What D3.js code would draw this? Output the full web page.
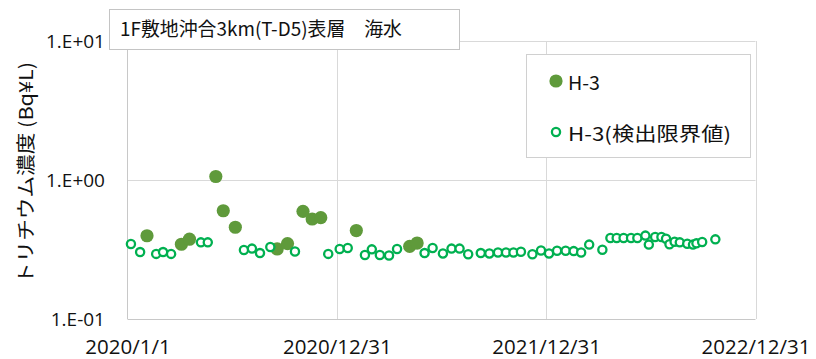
<!DOCTYPE html>
<html>
<head>
<meta charset="utf-8">
<script src="https://cdn.jsdelivr.net/npm/d3@7"></script>
<style>
  html, body { margin: 0; padding: 0; background: #fff; }
  svg { display: block; }
</style>
</head>
<body>
<svg id="chart" width="816" height="359"></svg>
<script>
// Tritium in surface seawater, 3 km off the site (T-D5)
const chartTitle = "1F敷地沖合3km(T-D5)表層\u3000海水";
const yAxisTitle = "トリチウム濃度 (Bq¥L)";
const seriesNames = ["H-3", "H-3(検出限界値)"];

// Detected concentrations (Bq/L)
const detectedDates = [
  "2020-02-04", "2020-04-04", "2020-04-18", "2020-06-03", "2020-06-16", "2020-07-07",
  "2020-09-18", "2020-10-06", "2020-11-02", "2020-11-18", "2020-12-03",
  "2021-02-03", "2021-05-07", "2021-05-20"
];
const detectedValues = [
  0.397, 0.345, 0.375, 1.06, 0.601, 0.457,
  0.319, 0.349, 0.595, 0.524, 0.536,
  0.433, 0.333, 0.352
];

// Not detected: plotted at the detection limit (Bq/L)
const limitDates = [
  "2020-01-07", "2020-01-23", "2020-02-20", "2020-03-03", "2020-03-17", "2020-05-08",
  "2020-05-20", "2020-07-22", "2020-08-05", "2020-08-19", "2020-09-06", "2020-10-19",
  "2020-12-16", "2021-01-05", "2021-01-19", "2021-02-18", "2021-03-02", "2021-03-16",
  "2021-04-01", "2021-04-15", "2021-06-02", "2021-06-16", "2021-07-04", "2021-07-19",
  "2021-08-02", "2021-08-17", "2021-09-08", "2021-09-23", "2021-10-08", "2021-10-22",
  "2021-11-04", "2021-11-17", "2021-12-07", "2021-12-22", "2022-01-05", "2022-01-19",
  "2022-02-03", "2022-02-17", "2022-03-02", "2022-03-16", "2022-04-08", "2022-04-22",
  "2022-05-03", "2022-05-15", "2022-05-28", "2022-06-08", "2022-06-22", "2022-06-28",
  "2022-07-09", "2022-07-20", "2022-07-28", "2022-08-03", "2022-08-12", "2022-08-21",
  "2022-09-03", "2022-09-13", "2022-09-19", "2022-09-29", "2022-10-22"
];
const limitValues = [
  0.346, 0.303, 0.294, 0.303, 0.294, 0.356,
  0.356, 0.314, 0.321, 0.298, 0.330, 0.306,
  0.294, 0.319, 0.324, 0.289, 0.317, 0.289,
  0.286, 0.319, 0.298, 0.324, 0.296, 0.321,
  0.321, 0.292, 0.298, 0.296, 0.301, 0.301,
  0.301, 0.305, 0.292, 0.311, 0.296, 0.310,
  0.310, 0.308, 0.301, 0.343, 0.315, 0.383,
  0.383, 0.383, 0.383, 0.383, 0.398, 0.343,
  0.389, 0.389, 0.378, 0.345, 0.360, 0.356,
  0.348, 0.343, 0.350, 0.358, 0.374
];

// Axis ticks
const xTickLabels = ["2020/1/1", "2020/12/31", "2021/12/31", "2022/12/31"];
const yTickValues = [0.1, 1, 10];
const yTickLabels = ["1.E-01", "1.E+00", "1.E+01"];

const parseISO = d3.utcParse("%Y-%m-%d");
const parseTick = d3.utcParse("%Y/%m/%d");
const xTickDates = xTickLabels.map(parseTick);

const detected = detectedDates.map((d, i) => ({ date: parseISO(d), value: detectedValues[i] }));
const limits = limitDates.map((d, i) => ({ date: parseISO(d), value: limitValues[i] }));

const svg = d3.select("#chart");
const plot = { left: 127.5, right: 755.5, top: 41, bottom: 319 };

const x = d3.scaleUtc()
  .domain([xTickDates[0], xTickDates[xTickDates.length - 1]])
  .range([plot.left, plot.right]);
const y = d3.scaleLog()
  .domain([yTickValues[0], yTickValues[yTickValues.length - 1]])
  .range([plot.bottom, plot.top]);

const gridColor = "#d9d9d9";
const axisColor = "#c8c8c8";
const latinFont = "'Open Sans', 'Noto Sans', sans-serif";
const cjkFont = "'Noto Sans CJK JP', 'Noto Sans', sans-serif";

// Gridlines
const grid = svg.append("g");
grid.selectAll("line.h")
  .data(yTickValues.slice(1))
  .join("line")
  .attr("x1", plot.left).attr("x2", plot.right)
  .attr("y1", d => Math.round(y(d)) + 0.5).attr("y2", d => Math.round(y(d)) + 0.5)
  .attr("stroke", gridColor).attr("stroke-width", 1);
grid.selectAll("line.v")
  .data(xTickDates.slice(1))
  .join("line")
  .attr("x1", d => Math.round(x(d)) + 0.5).attr("x2", d => Math.round(x(d)) + 0.5)
  .attr("y1", plot.top).attr("y2", plot.bottom)
  .attr("stroke", gridColor).attr("stroke-width", 1);

// X axis
const xAxis = svg.append("g")
  .attr("transform", `translate(0,${plot.bottom + 0.5})`)
  .call(d3.axisBottom(x).tickValues(xTickDates).tickSize(0).tickPadding(0)
    .tickFormat((d, i) => xTickLabels[i]));
xAxis.select(".domain").attr("stroke", axisColor).attr("d", `M${plot.left},0H${plot.right}`);
xAxis.selectAll("text")
  .attr("y", 34.5).attr("dy", null)
  .attr("font-family", latinFont).attr("font-size", 20.5).attr("fill", "#111");

// Y axis
const yAxis = svg.append("g")
  .attr("transform", `translate(${plot.left},0)`)
  .call(d3.axisLeft(y).tickValues(yTickValues).tickSize(0).tickPadding(0)
    .tickFormat((d, i) => yTickLabels[i]));
yAxis.select(".domain").attr("stroke", axisColor).attr("d", `M0,${plot.top}V${plot.bottom}`);
yAxis.selectAll("text")
  .attr("x", -22.5).attr("dy", "0.36em")
  .attr("font-family", latinFont).attr("font-size", 19).attr("fill", "#111");

// Y axis title
svg.append("text")
  .attr("transform", "translate(24,173) rotate(-90)")
  .attr("text-anchor", "middle")
  .attr("dominant-baseline", "central")
  .attr("font-family", cjkFont).attr("font-size", 19).attr("fill", "#111")
  .attr("textLength", 222).attr("lengthAdjust", "spacingAndGlyphs")
  .text(yAxisTitle);

// Series
const filledColor = "#5f9a3b";
const openColor = "#00b050";

svg.append("g").selectAll("circle")
  .data(detected)
  .join("circle")
  .attr("cx", d => x(d.date)).attr("cy", d => y(d.value))
  .attr("r", 6.6).attr("fill", filledColor);

svg.append("g").selectAll("circle")
  .data(limits)
  .join("circle")
  .attr("cx", d => x(d.date)).attr("cy", d => y(d.value))
  .attr("r", 4.1).attr("fill", "#fff")
  .attr("stroke", openColor).attr("stroke-width", 2.3);

// Title box
svg.append("rect")
  .attr("x", 109.5).attr("y", 9.5).attr("width", 350).attr("height", 40)
  .attr("fill", "#fff").attr("stroke", "#c4c4c4");
svg.append("text")
  .attr("x", 120).attr("y", 36)
  .attr("font-family", cjkFont).attr("font-size", 19).attr("fill", "#111")
  .attr("textLength", 282).attr("lengthAdjust", "spacingAndGlyphs")
  .text(chartTitle);

// Legend
const legend = svg.append("g");
legend.append("rect")
  .attr("x", 526.5).attr("y", 54.5).attr("width", 224).attr("height", 103)
  .attr("fill", "#fff").attr("stroke", "#d0d0d0");
legend.append("circle").attr("cx", 556).attr("cy", 81).attr("r", 6.6).attr("fill", filledColor);
legend.append("circle").attr("cx", 556).attr("cy", 132).attr("r", 4.1)
  .attr("fill", "#fff").attr("stroke", openColor).attr("stroke-width", 2.3);
legend.append("text")
  .attr("x", 568).attr("y", 81).attr("dominant-baseline", "central")
  .attr("font-family", cjkFont).attr("font-size", 19).attr("fill", "#111")
  .attr("textLength", 32).attr("lengthAdjust", "spacingAndGlyphs")
  .text(seriesNames[0]);
legend.append("text")
  .attr("x", 568).attr("y", 132).attr("dominant-baseline", "central")
  .attr("font-family", cjkFont).attr("font-size", 19).attr("fill", "#111")
  .attr("textLength", 163).attr("lengthAdjust", "spacingAndGlyphs")
  .text(seriesNames[1]);
</script>
</body>
</html>
